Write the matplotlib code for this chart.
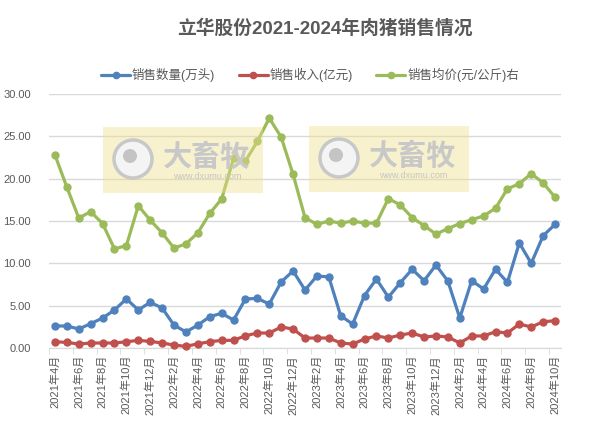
import matplotlib
matplotlib.use("Agg")
import matplotlib.pyplot as plt
from matplotlib.patches import Rectangle, Ellipse

plt.rcParams["font.family"] = ["Liberation Sans", "Noto Sans CJK SC", "DejaVu Sans"]

W, H = 589, 422

# ── Data ──────────────────────────────────────────────────────────────
years_months = [(2021, m) for m in range(4, 13)] + [(2022, m) for m in range(1, 13)] \
    + [(2023, m) for m in range(1, 13)] + [(2024, m) for m in range(1, 11)]
month_labels = [f"{y}年{m}月" for y, m in years_months]

sales_volume = [2.6, 2.6, 2.25, 2.87, 3.54, 4.49, 5.8, 4.49, 5.4, 4.72,
                2.7, 1.9, 2.7, 3.7, 4.1, 3.3, 5.8, 5.85, 5.2, 7.8,
                9.1, 6.85, 8.5, 8.4, 3.8, 2.83, 6.2, 8.15, 6.0, 7.7,
                9.3, 7.95, 9.8, 7.9, 3.55, 7.95, 6.97, 9.3, 7.75, 12.4,
                10.0, 13.26, 14.6]
sales_revenue = [0.74, 0.66, 0.47, 0.59, 0.59, 0.59, 0.74, 0.9, 0.78, 0.59,
                 0.35, 0.19, 0.5, 0.74, 0.9, 0.9, 1.45, 1.77, 1.77, 2.48,
                 2.24, 1.18, 1.18, 1.18, 0.59, 0.47, 1.06, 1.42, 1.18, 1.53,
                 1.77, 1.3, 1.42, 1.3, 0.59, 1.42, 1.42, 1.92, 1.77, 2.83,
                 2.48, 3.1, 3.22]
avg_price = [22.8, 19.0, 15.35, 16.1, 14.7, 11.7, 12.1, 16.8, 15.1, 13.6,
             11.8, 12.3, 13.6, 15.9, 17.6, 22.4, 22.1, 24.4, 27.15, 24.9,
             20.5, 15.4, 14.6, 15.0, 14.75, 15.0, 14.75, 14.75, 17.65, 16.9,
             15.4, 14.45, 13.45, 14.1, 14.7, 15.15, 15.6, 16.5, 18.8, 19.4,
             20.6, 19.5, 17.8]

series_names = ["销售数量(万头)", "销售收入(亿元)", "销售均价(元/公斤)右"]
series_colors = ["#4F81BD", "#C0504D", "#9BBB59"]

TEXT = "#595959"
GRID = "#D9D9D9"


def px(x, y):
    """pixel (from top-left) -> figure fraction"""
    return x / W, 1 - y / H


def circle(fig, x, y, r, **kw):
    cx, cy = px(x, y)
    fig.add_artist(Ellipse((cx, cy), 2 * r / W, 2 * r / H, transform=fig.transFigure, **kw))


def draw_watermark(fig, x0, y0):
    # pale yellow box with a grey logo and site name
    bx, by = px(x0, y0 + 66)
    fig.add_artist(Rectangle((bx, by), 160 / W, 66 / H, transform=fig.transFigure,
                             facecolor="#EEE08A", edgecolor="none", alpha=0.42, zorder=10))
    circle(fig, x0 + 30, y0 + 32, 19, facecolor="#F4F4F4", edgecolor="#C8C8C8", lw=2.5, zorder=11)
    circle(fig, x0 + 27, y0 + 29, 7, facecolor="#C4C4C4", edgecolor="none", zorder=12)
    tx, ty = px(x0 + 104, y0 + 31)
    fig.text(tx, ty, "大畜牧", ha="center", va="center", fontsize=21, fontweight="bold",
             color="#C8C8C8", zorder=12)
    ux, uy = px(x0 + 104, y0 + 50)
    fig.text(ux, uy, "www.dxumu.com", ha="center", va="center", fontsize=6.5,
             color="#C4C4C4", zorder=12)


fig = plt.figure(figsize=(W / 100, H / 100), dpi=100)
ax = fig.add_axes([49 / W, 74 / H, 512 / W, 254 / H])

x = list(range(len(month_labels)))
for vals, name, col in zip([sales_volume, sales_revenue, avg_price], series_names, series_colors):
    ax.plot(x, vals, color=col, lw=2.3, marker="o", markersize=5, label=name,
            solid_capstyle="round", clip_on=False, zorder=3)

ax.set_xlim(-0.5, len(month_labels) - 0.5)
ax.set_ylim(0, 30)
ax.set_yticks(range(0, 31, 5))
ax.set_yticklabels([f"{v:.2f}" for v in range(0, 31, 5)])
ax.yaxis.grid(True, color=GRID, lw=1)
ax.set_axisbelow(True)

ax.set_xticks(x[::2])
ax.set_xticklabels(month_labels[::2], rotation=90)
ax.set_xticks([i - 0.5 for i in range(0, len(month_labels) + 1, 2)], minor=True)
ax.tick_params(axis="x", which="major", length=0, labelsize=8, labelcolor=TEXT, pad=5)
ax.tick_params(axis="x", which="minor", length=4, color=GRID, direction="out")
ax.tick_params(axis="y", length=0, labelsize=8, labelcolor=TEXT, pad=13)

for side in ["top", "right", "left"]:
    ax.spines[side].set_visible(False)
ax.spines["bottom"].set_color(GRID)

tx, ty = px(325, 28)
fig.text(tx, ty, "立华股份2021-2024年肉猪销售情况", ha="center", va="center",
         fontsize=13.5, fontweight="bold", color=TEXT)

lx, ly = px(310, 75)
fig.legend(loc="center", bbox_to_anchor=(lx, ly), ncol=3, frameon=False,
           fontsize=9, labelcolor=TEXT, handlelength=2.3, handletextpad=0.15,
           columnspacing=1.9, markerscale=0.9)

draw_watermark(fig, 103, 127)
draw_watermark(fig, 309, 126)

fig.savefig("out.png", dpi=100)
